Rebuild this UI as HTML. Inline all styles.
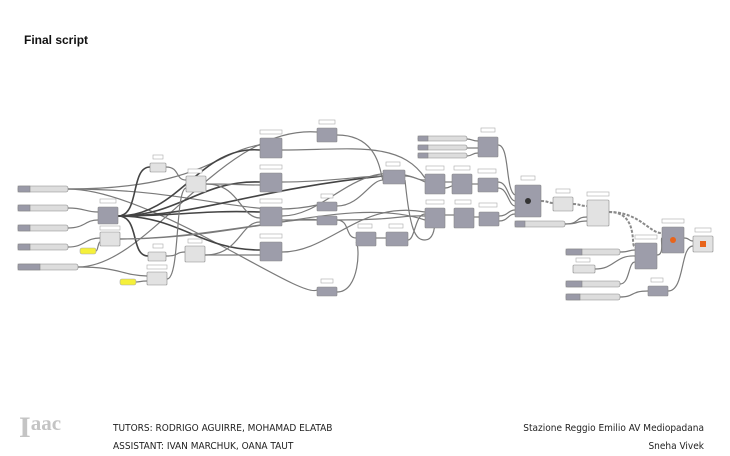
<!DOCTYPE html>
<html><head><meta charset="utf-8"><style>
body{margin:0;width:730px;height:456px;background:#fff;overflow:hidden;font-family:"Liberation Sans",sans-serif}
.t{position:absolute;font-family:"Liberation Sans",sans-serif}
</style></head><body>
<div class="t" style="left:24px;top:33px;font-size:12px;font-weight:bold;color:#111">Final script</div>
<svg width="730" height="456" style="position:absolute;left:0;top:0">
<g fill="none" stroke="#7a7a7a" stroke-width="1.2">
<path d="M68,189 C200,189 220,150 260,145"/>
<path d="M68,189 C200,189 250,220 317,205"/>
<path d="M68,189 C150,189 300,300 317,290"/>
<path d="M68,208 C85,208 85,212 98,212"/>
<path d="M68,228 C85,228 85,220 98,220"/>
<path d="M68,247 C85,247 85,238 100,238"/>
<path d="M96,251 C98,251 98,242 100,242"/>
<path d="M78,267 C120,267 120,275 147,276"/>
<path d="M136,282 C140,282 140,281 147,281"/>
<path d="M78,267 C150,267 220,125 317,132" />
<path d="M118,216 C140,216 130,167 150,167" stroke="#444" stroke-width="1.6"/>
<path d="M118,216 C140,216 130,256 148,256" stroke="#444" stroke-width="1.6"/>
<path d="M118,216 C180,216 200,145 260,150" stroke="#444" stroke-width="1.6"/>
<path d="M118,216 C180,216 200,180 260,182" stroke="#444" stroke-width="1.6"/>
<path d="M118,216 C180,216 200,210 260,212" stroke="#444" stroke-width="1.6"/>
<path d="M118,216 C180,216 200,250 260,250" stroke="#444" stroke-width="1.6"/>
<path d="M118,216 C200,216 250,190 383,176" stroke="#444" stroke-width="1.6"/>
<path d="M120,239 C200,239 300,215 317,220"/>
<path d="M120,239 C250,239 350,195 425,220"/>
<path d="M166,167 C180,167 175,180 186,180"/>
<path d="M166,256 C180,256 175,252 185,252"/>
<path d="M206,184 C240,184 240,185 260,185"/>
<path d="M206,184 C240,184 240,218 260,218"/>
<path d="M205,255 C240,255 240,255 260,255"/>
<path d="M205,255 C240,255 240,222 260,222"/>
<path d="M167,279 C180,279 175,190 186,188"/>
<path d="M282,150 C350,150 400,140 425,178"/>
<path d="M282,182 C330,182 360,176 383,176"/>
<path d="M282,216 C330,216 360,150 425,182"/>
<path d="M282,220 C330,220 300,220 317,220"/>
<path d="M282,252 C330,252 360,200 425,212"/>
<path d="M337,135 C380,135 380,175 383,180"/>
<path d="M337,206 C360,206 370,180 383,180"/>
<path d="M337,220 C350,220 345,238 356,238"/>
<path d="M337,220 C400,220 400,215 425,216"/>
<path d="M337,292 C360,292 360,245 356,242"/>
<path d="M376,238 C380,238 380,238 386,238"/>
<path d="M405,176 C415,176 415,180 425,180"/>
<path d="M405,180 C410,230 415,240 425,240 C440,240 435,200 425,216"/>
<path d="M408,240 C415,240 415,214 425,214"/>
<path d="M467,139 C472,139 472,141 478,141"/>
<path d="M467,148 C472,148 472,148 478,148"/>
<path d="M467,156 C472,156 472,153 478,153"/>
<path d="M498,145 C510,145 505,190 515,195"/>
<path d="M445,182 C450,182 450,182 452,182"/>
<path d="M445,188 C450,188 450,186 452,186"/>
<path d="M472,184 C476,184 476,184 478,184"/>
<path d="M498,182 C508,182 508,200 515,201"/>
<path d="M498,188 C508,188 508,205 515,206"/>
<path d="M445,215 C450,215 450,215 454,215"/>
<path d="M474,217 C476,217 476,217 479,217"/>
<path d="M499,216 C508,216 508,210 515,210"/>
<path d="M499,221 C508,221 508,214 515,214"/>
<path d="M565,224 C580,224 575,217 587,217"/>
<path d="M565,224 C580,224 575,221 587,221"/>
<path d="M620,252 C630,252 628,250 635,250"/>
<path d="M595,269 C615,269 615,255 635,256"/>
<path d="M620,284 C630,284 628,262 635,262"/>
<path d="M620,297 C635,297 630,291 648,291"/>
<path d="M668,291 C685,291 680,246 693,246"/>
<path d="M657,255 C665,255 660,238 662,238"/>
<path d="M684,238 C690,238 688,241 693,241"/>
</g>
<g fill="none" stroke="#8a8a8a" stroke-width="2" stroke-dasharray="3,1.5">
<path d="M541,201 C548,201 548,203 553,203"/>
<path d="M573,204 C580,204 580,206 587,206"/>
<path d="M609,212 C640,212 630,250 635,246"/>
<path d="M609,212 C640,212 650,234 662,233"/>
</g>
<g font-size="3" fill="#333" stroke="#888" stroke-width="0.6">
<g fill="#ddd"><rect x="18" y="186" width="50" height="6" rx="2"/><rect x="18" y="205" width="50" height="6" rx="2"/><rect x="18" y="225" width="50" height="6" rx="2"/><rect x="18" y="244" width="50" height="6" rx="2"/><rect x="18" y="264" width="60" height="6" rx="2"/>
<rect x="418" y="136" width="49" height="5" rx="2"/><rect x="418" y="145" width="49" height="5" rx="2"/><rect x="418" y="153" width="49" height="5" rx="2"/>
<rect x="515" y="221" width="50" height="6" rx="2"/><rect x="566" y="249" width="54" height="6" rx="2"/><rect x="566" y="281" width="54" height="6" rx="2"/><rect x="566" y="294" width="54" height="6" rx="2"/></g>
<g fill="#9a9aa8"><rect x="18" y="186" width="12" height="6"/><rect x="18" y="205" width="12" height="6"/><rect x="18" y="225" width="12" height="6"/><rect x="18" y="244" width="12" height="6"/><rect x="18" y="264" width="22" height="6"/>
<rect x="418" y="136" width="10" height="5"/><rect x="418" y="145" width="10" height="5"/><rect x="418" y="153" width="10" height="5"/><rect x="515" y="221" width="10" height="6"/><rect x="566" y="249" width="16" height="6"/><rect x="566" y="281" width="16" height="6"/><rect x="566" y="294" width="14" height="6"/></g>
<g fill="#f5f03a" stroke="#aaa"><rect x="80" y="248" width="16" height="6" rx="2"/><rect x="120" y="279" width="16" height="6" rx="2"/></g>
<g fill="#e2e2e2"><rect x="150" y="163" width="16" height="9" rx="1"/><rect x="148" y="252" width="18" height="9" rx="1"/><rect x="186" y="176" width="20" height="16" rx="1"/><rect x="185" y="246" width="20" height="16" rx="1"/><rect x="100" y="232" width="20" height="14" rx="1"/><rect x="147" y="272" width="20" height="13" rx="1"/><rect x="553" y="197" width="20" height="14" rx="1"/><rect x="587" y="200" width="22" height="26" rx="1"/><rect x="693" y="236" width="20" height="16" rx="1"/><rect x="573" y="265" width="22" height="8" rx="1"/></g>
<g fill="#9d9daa"><rect x="98" y="207" width="20" height="17" rx="1"/>
<rect x="260" y="138" width="22" height="20" rx="1"/><rect x="260" y="173" width="22" height="19" rx="1"/><rect x="260" y="207" width="22" height="19" rx="1"/><rect x="260" y="242" width="22" height="19" rx="1"/>
<rect x="317" y="128" width="20" height="14" rx="1"/><rect x="317" y="202" width="20" height="9" rx="1"/><rect x="317" y="216" width="20" height="9" rx="1"/><rect x="317" y="287" width="20" height="9" rx="1"/>
<rect x="383" y="170" width="22" height="14" rx="1"/><rect x="356" y="232" width="20" height="14" rx="1"/><rect x="386" y="232" width="22" height="14" rx="1"/>
<rect x="478" y="137" width="20" height="20" rx="1"/><rect x="425" y="174" width="20" height="20" rx="1"/><rect x="452" y="174" width="20" height="20" rx="1"/><rect x="478" y="178" width="20" height="14" rx="1"/>
<rect x="425" y="208" width="20" height="20" rx="1"/><rect x="454" y="208" width="20" height="20" rx="1"/><rect x="479" y="212" width="20" height="14" rx="1"/>
<rect x="515" y="185" width="26" height="32" rx="1"/><rect x="635" y="243" width="22" height="26" rx="1"/><rect x="662" y="227" width="22" height="26" rx="1"/><rect x="648" y="286" width="20" height="10" rx="1"/></g>
<g fill="#fff" stroke="#aaa"><rect x="153" y="155" width="10" height="4"/><rect x="100" y="199" width="16" height="4"/><rect x="100" y="226" width="20" height="4"/><rect x="188" y="169" width="14" height="4"/><rect x="153" y="244" width="10" height="4"/><rect x="188" y="239" width="14" height="4"/><rect x="147" y="265" width="20" height="4"/>
<rect x="260" y="130" width="22" height="4"/><rect x="260" y="165" width="22" height="4"/><rect x="260" y="199" width="22" height="4"/><rect x="260" y="234" width="22" height="4"/><rect x="319" y="120" width="16" height="4"/><rect x="321" y="194" width="12" height="4"/><rect x="321" y="279" width="12" height="4"/><rect x="386" y="162" width="14" height="4"/><rect x="358" y="224" width="14" height="4"/><rect x="389" y="224" width="14" height="4"/>
<rect x="481" y="128" width="14" height="4"/><rect x="426" y="166" width="18" height="4"/><rect x="454" y="166" width="16" height="4"/><rect x="478" y="169" width="18" height="4"/><rect x="426" y="200" width="18" height="4"/><rect x="455" y="200" width="16" height="4"/><rect x="479" y="203" width="18" height="4"/><rect x="521" y="176" width="14" height="4"/><rect x="556" y="189" width="14" height="4"/><rect x="587" y="192" width="22" height="4"/><rect x="662" y="219" width="22" height="4"/><rect x="635" y="235" width="22" height="4"/><rect x="695" y="228" width="16" height="4"/><rect x="576" y="258" width="14" height="4"/><rect x="651" y="278" width="12" height="4"/></g>
</g>
<g fill="#e8641b"><circle cx="673" cy="240" r="3"/><rect x="700" y="241" width="6" height="6"/></g>
<g fill="#333"><circle cx="528" cy="201" r="3"/></g>
<text x="19" y="437" font-family="Liberation Serif,serif" font-size="30" font-weight="bold" fill="#c4c4c4">I<tspan font-size="21" dy="-7">aac</tspan></text>
<g font-family="'DejaVu Sans Condensed','Liberation Sans Narrow','Liberation Sans',sans-serif" font-size="10" fill="#222">
<text x="113" y="431">TUTORS: RODRIGO AGUIRRE, MOHAMAD ELATAB</text>
<text x="113" y="449">ASSISTANT: IVAN MARCHUK, OANA TAUT</text>
<text x="704" y="431" text-anchor="end">Stazione Reggio Emilio AV Mediopadana</text>
<text x="704" y="449" text-anchor="end">Sneha Vivek</text>
</g>
</svg>
</body></html>
